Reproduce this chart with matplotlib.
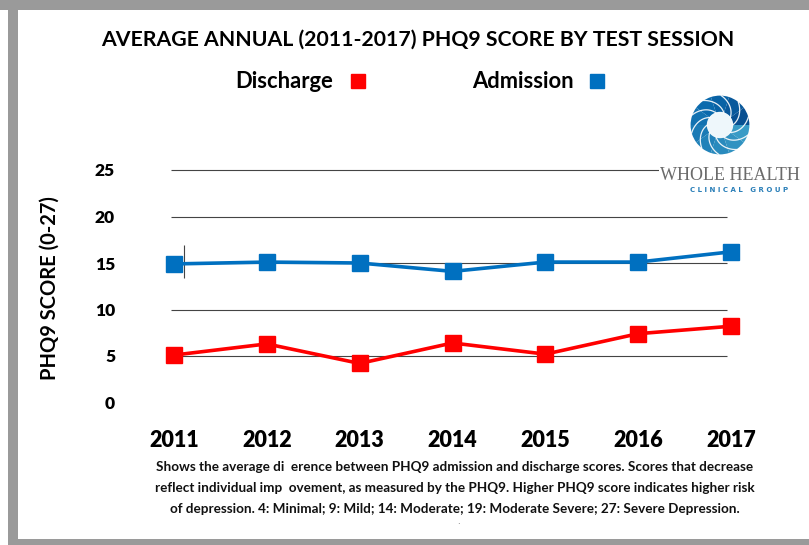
import numpy as np
import matplotlib
matplotlib.use('Agg')
import matplotlib.pyplot as plt
from matplotlib.lines import Line2D
from matplotlib.patches import Rectangle, Wedge, Circle

# data
years = ['2011', '2012', '2013', '2014', '2015', '2016', '2017']
admission = [14.9, 15.1, 15.0, 14.1, 15.1, 15.1, 16.2]
discharge = [5.1, 6.3, 4.2, 6.4, 5.2, 7.4, 8.2]
y_ticks = [0, 5, 10, 15, 20, 25]
grid_levels = [5, 10, 15, 20, 25]

title = 'AVERAGE ANNUAL (2011-2017) PHQ9 SCORE BY TEST SESSION'
caption = ('Shows the average di  erence between PHQ9 admission and discharge scores. Scores that decrease\n'
           'reflect individual imp  ovement, as measured by the PHQ9. Higher PHQ9 score indicates higher risk\n'
           'of depression. 4: Minimal; 9: Mild; 14: Moderate; 19: Moderate Severe; 27: Severe Depression.')

blue = '#0070C0'
red = '#FF0000'
font = 'Lato'

W, H = 809, 545
fig = plt.figure(figsize=(W / 100, H / 100), dpi=100)
fig.patch.set_facecolor('white')

# gray frame around the chart
fig.patches.append(Rectangle((0, 1 - 10 / H), 1, 10 / H, transform=fig.transFigure,
                             facecolor='#9a9a9a', edgecolor='none'))
fig.patches.append(Rectangle((8 / W, 0), 10 / W, 1, transform=fig.transFigure,
                             facecolor='#9a9a9a', edgecolor='none'))
fig.patches.append(Rectangle((8 / W, 0), 1, 6 / H, transform=fig.transFigure,
                             facecolor='#9a9a9a', edgecolor='none'))

x = np.arange(len(years))
ax = fig.add_axes([127.6 / W, (H - 402.5) / H, 649.8 / W, 251.1 / H])
ax.set_xlim(-0.5, 6.5)
ax.set_ylim(0, 27)
for s in ax.spines.values():
    s.set_visible(False)

ax.hlines(grid_levels, -0.03, 5.96, color='#444444', linewidth=0.8, zorder=1)
# stray tick mark next to the first point
ax.vlines(0.11, 13.4, 16.9, color='#444444', linewidth=0.8, zorder=1)

ax.plot(x, admission, color=blue, linewidth=2.6, marker='s', markersize=11.5, zorder=3, clip_on=False)
ax.plot(x, discharge, color=red, linewidth=2.6, marker='s', markersize=11.5, zorder=3, clip_on=False)

ax.set_xticks(x)
ax.set_xticklabels(years, fontsize=15.5, fontweight='heavy', family=font)
ax.set_yticks(y_ticks)
ax.set_yticklabels([str(v) for v in y_ticks], fontsize=12.5, fontweight='heavy', family=font)
ax.tick_params(axis='x', length=0, pad=20)
ax.tick_params(axis='y', length=0, pad=9)

fig.text(50 / W, 1 - 288 / H, 'PHQ9 SCORE (0-27)', rotation=90, ha='center', va='center',
         fontsize=14.5, fontweight='bold', family=font)
fig.text(418 / W, 1 - 40 / H, title, ha='center', va='center', fontsize=15.3,
         fontweight='bold', family=font)

handles = [Line2D([], [], color=red, marker='s', linestyle='none', markersize=10),
           Line2D([], [], color=blue, marker='s', linestyle='none', markersize=10)]
fig.legend(handles, ['Discharge', 'Admission'], loc='center', bbox_to_anchor=(422 / W, 1 - 82 / H),
           ncol=2, markerfirst=False, frameon=False, handlelength=1.0, handletextpad=0.6,
           columnspacing=4.7, prop={'family': font, 'weight': 'bold', 'size': 15.8})

fig.text(455 / W, 1 - 488 / H, caption, ha='center', va='center', fontsize=9.7,
         fontweight='bold', family=font, linespacing=1.9, color='#111111')
fig.text(458 / W, 1 - 522 / H, '.', ha='center', va='center', fontsize=6, color='#555555')

# logo: swirl ring plus company name
lax = fig.add_axes([(720 - 30) / W, 1 - (125 + 30) / H, 60 / W, 60 / H])
lax.set_xlim(-1, 1)
lax.set_ylim(-1, 1)
lax.set_aspect('equal')
lax.axis('off')
blades = 10
shades = plt.cm.GnBu(np.linspace(0.95, 0.7, blades))
for k in range(blades):
    a0 = 360 * k / blades
    lax.add_patch(Wedge((0, 0), 0.98, a0, a0 + 360 / blades, width=0.56,
                        facecolor=shades[k], edgecolor='none'))
    t = np.linspace(0, 1, 30)
    ang = np.radians(a0) + t * 0.9
    r = 0.42 + 0.56 * t
    lax.plot(r * np.cos(ang), r * np.sin(ang), color='white', linewidth=0.9, alpha=0.9)
lax.add_patch(Circle((0, 0), 0.44, facecolor='#eef7fb', edgecolor='none'))

fig.text(730 / W, 1 - 175 / H, 'WHOLE HEALTH', ha='center', va='center', fontsize=13,
         family='Liberation Serif', color='#6b6b6b',
         bbox=dict(facecolor='white', edgecolor='none', pad=1))
fig.text(739 / W, 1 - 190 / H, 'C L I N I C A L   G R O U P', ha='center', va='center', fontsize=5,
         fontweight='bold', family='DejaVu Sans', color='#2a7fb8')

fig.savefig('out.png', dpi=100, facecolor='white')
